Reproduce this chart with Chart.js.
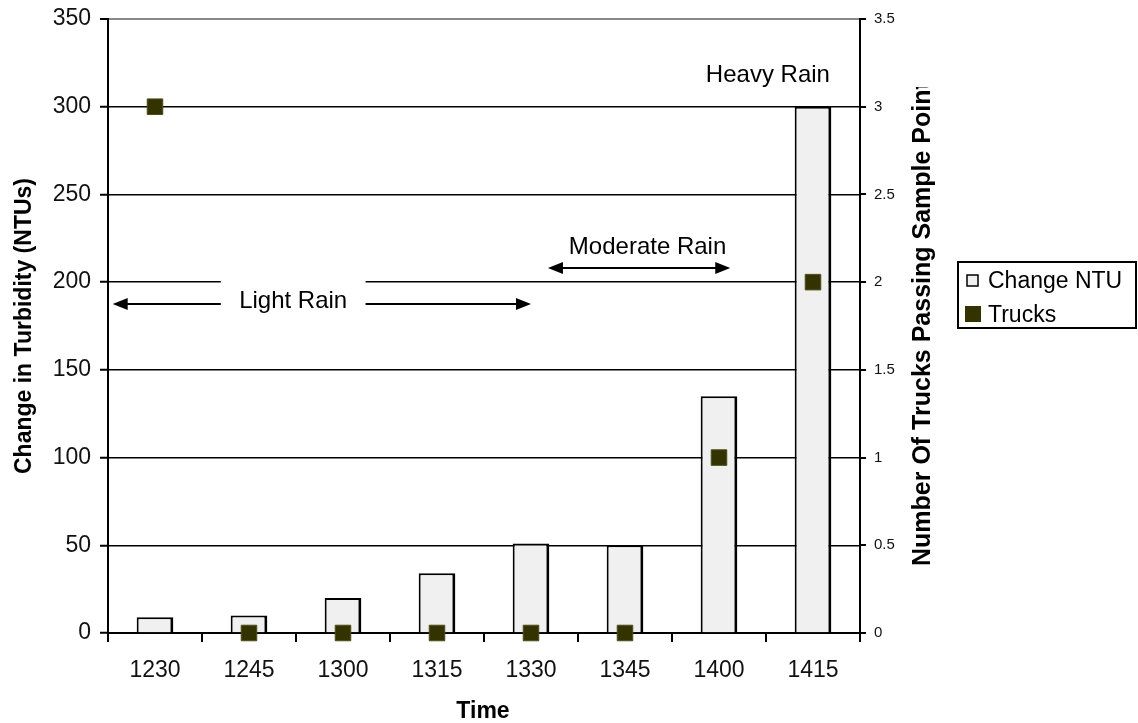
<!DOCTYPE html>
<html>
<head>
<meta charset="utf-8">
<script src="https://cdn.jsdelivr.net/npm/chart.js@4/dist/chart.umd.min.js"></script>
<style>
  html, body { margin: 0; padding: 0; background: #fff; }
  #wrap { width: 1138px; height: 723px; }
</style>
</head>
<body>
<div id="wrap"><canvas id="chart"></canvas></div>
<script>
var times = ["1230", "1245", "1300", "1315", "1330", "1345", "1400", "1415"];
var changeNTU = [9, 10, 20, 34, 51, 50, 135, 300];
var trucks = [3, 0, 0, 0, 0, 0, 1, 2];

var FONT = "'Liberation Sans', Arial, sans-serif";

// notes drawn over the plot, in category index / left-axis value units
var rainNotes = [
  { text: "Light Rain", x: 1.47, y: 187.5, from: -0.45, to: 4.0, gapL: 0.7, gapR: 2.24 },
  { text: "Moderate Rain", x: 5.24, y: 220, arrowY: 208, from: 4.18, to: 6.12 },
  { text: "Heavy Rain", x: 6.52, y: 318 }
];

function arrowHead(c, x, y, dir) {
  c.beginPath();
  c.moveTo(x, y);
  c.lineTo(x - dir * 15, y - 6);
  c.lineTo(x - dir * 15, y + 6);
  c.closePath();
  c.fill();
}

var extras = {
  id: "extras",
  afterDraw: function (chart) {
    var c = chart.ctx, xs = chart.scales.x, ys = chart.scales.y, a = chart.chartArea;
    c.save();
    c.fillStyle = "#000";
    c.strokeStyle = "#000";
    c.font = "24px " + FONT;
    c.textAlign = "center";
    c.textBaseline = "middle";

    // light rain
    var n = rainNotes[0];
    var ly = ys.getPixelForValue(n.y);
    var gl = xs.getPixelForValue(n.gapL), gr = xs.getPixelForValue(n.gapR);
    c.fillStyle = "#fff";
    c.fillRect(gl, ly - 24, gr - gl, 36);
    c.fillStyle = "#000";
    c.fillText(n.text, xs.getPixelForValue(n.x), ly - 3);
    c.lineWidth = 2;
    var x0 = xs.getPixelForValue(n.from), x1 = xs.getPixelForValue(n.to);
    c.beginPath();
    c.moveTo(x0 + 10, ly); c.lineTo(gl, ly);
    c.moveTo(gr, ly); c.lineTo(x1 - 10, ly);
    c.stroke();
    arrowHead(c, x0, ly, -1);
    arrowHead(c, x1, ly, 1);

    // moderate rain
    n = rainNotes[1];
    var my = ys.getPixelForValue(n.arrowY);
    x0 = xs.getPixelForValue(n.from); x1 = xs.getPixelForValue(n.to);
    c.fillText(n.text, xs.getPixelForValue(n.x), ys.getPixelForValue(n.y));
    c.beginPath();
    c.moveTo(x0 + 10, my); c.lineTo(x1 - 10, my);
    c.stroke();
    arrowHead(c, x0, my, -1);
    arrowHead(c, x1, my, 1);

    // heavy rain
    n = rainNotes[2];
    c.fillText(n.text, xs.getPixelForValue(n.x), ys.getPixelForValue(n.y));

    // axis titles
    c.font = "bold 23px " + FONT;
    c.fillText("Time", (a.left + a.right) / 2 - 1, 712);
    c.save();
    c.translate(25, (a.top + a.bottom) / 2);
    c.rotate(-Math.PI / 2);
    c.fillText("Change in Turbidity (NTUs)", 0, 0);
    c.restore();
    c.save();
    c.beginPath();
    c.rect(900, 87, 60, 600);
    c.clip();
    c.font = "bold 25px " + FONT;
    c.translate(923, 566);
    c.rotate(-Math.PI / 2);
    c.textAlign = "left";
    c.fillText("Number Of Trucks Passing Sample Point", 0, 0);
    c.restore();

    // legend
    c.lineWidth = 2;
    c.strokeRect(958, 262, 178, 66);
    c.fillStyle = "#f0f0f0";
    c.fillRect(967, 275, 11, 11);
    c.lineWidth = 1.5;
    c.strokeRect(967, 275, 11, 11);
    c.fillStyle = "#333300";
    c.fillRect(965, 306, 16, 16);
    c.fillStyle = "#000";
    c.font = "23px " + FONT;
    c.textAlign = "left";
    c.fillText("Change NTU", 988, 282);
    c.fillText("Trucks", 988, 316);
    c.restore();
  }
};

new Chart(document.getElementById("chart"), {
  data: {
    labels: times,
    datasets: [
      {
        type: "line",
        label: "Trucks",
        data: trucks,
        yAxisID: "y1",
        showLine: false,
        pointStyle: "rect",
        pointRadius: 11,
        pointHoverRadius: 11,
        backgroundColor: "#333300",
        borderColor: "#4d4d1a",
        borderWidth: 1,
        clip: false,
        order: 0
      },
      {
        type: "bar",
        label: "Change NTU",
        data: changeNTU,
        yAxisID: "y",
        backgroundColor: "#f0f0f0",
        borderColor: "#000",
        borderWidth: { left: 2, top: 2, right: 3, bottom: 0 },
        borderSkipped: "bottom",
        barPercentage: 0.39,
        categoryPercentage: 1,
        order: 1
      }
    ]
  },
  options: {
    responsive: true,
    maintainAspectRatio: false,
    animation: false,
    events: [],
    layout: { padding: { top: 19, left: 0, right: 0, bottom: 0 } },
    plugins: { legend: { display: false }, tooltip: { enabled: false } },
    scales: {
      x: {
        offset: true,
        grid: {
          offset: true,
          drawOnChartArea: false,
          color: "#000",
          lineWidth: 2,
          tickLength: 9
        },
        border: { color: "#000", width: 2 },
        ticks: { color: "#111", font: { family: FONT, size: 23 }, padding: 15, maxRotation: 0 },
        afterFit: function (s) { s.height = 90; }
      },
      y: {
        position: "left",
        min: 0,
        max: 350,
        ticks: { stepSize: 50, color: "#111", font: { family: FONT, size: 23 }, padding: 9 },
        grid: {
          color: function (ctx) { return ctx.tick && ctx.tick.value === 350 ? "#888" : "#000"; },
          lineWidth: function (ctx) { return ctx.tick && ctx.tick.value === 350 ? 2 : 1.5; },
          tickLength: 8,
          tickColor: "#000",
          tickWidth: 2
        },
        border: { color: "#000", width: 2 },
        afterFit: function (s) { s.width = 108; s.paddingTop = 0; s.paddingBottom = 0; }
      },
      y1: {
        position: "right",
        min: 0,
        max: 3.5,
        ticks: {
          stepSize: 0.5,
          color: "#111",
          font: { family: FONT, size: 15 },
          padding: 8,
          callback: function (v) { return String(v); }
        },
        grid: { drawOnChartArea: false, color: "#000", lineWidth: 2, tickLength: 6 },
        border: { color: "#000", width: 2 },
        afterFit: function (s) { s.width = 278; s.paddingTop = 0; s.paddingBottom = 0; }
      }
    }
  },
  plugins: [extras]
});
</script>
</body>
</html>
